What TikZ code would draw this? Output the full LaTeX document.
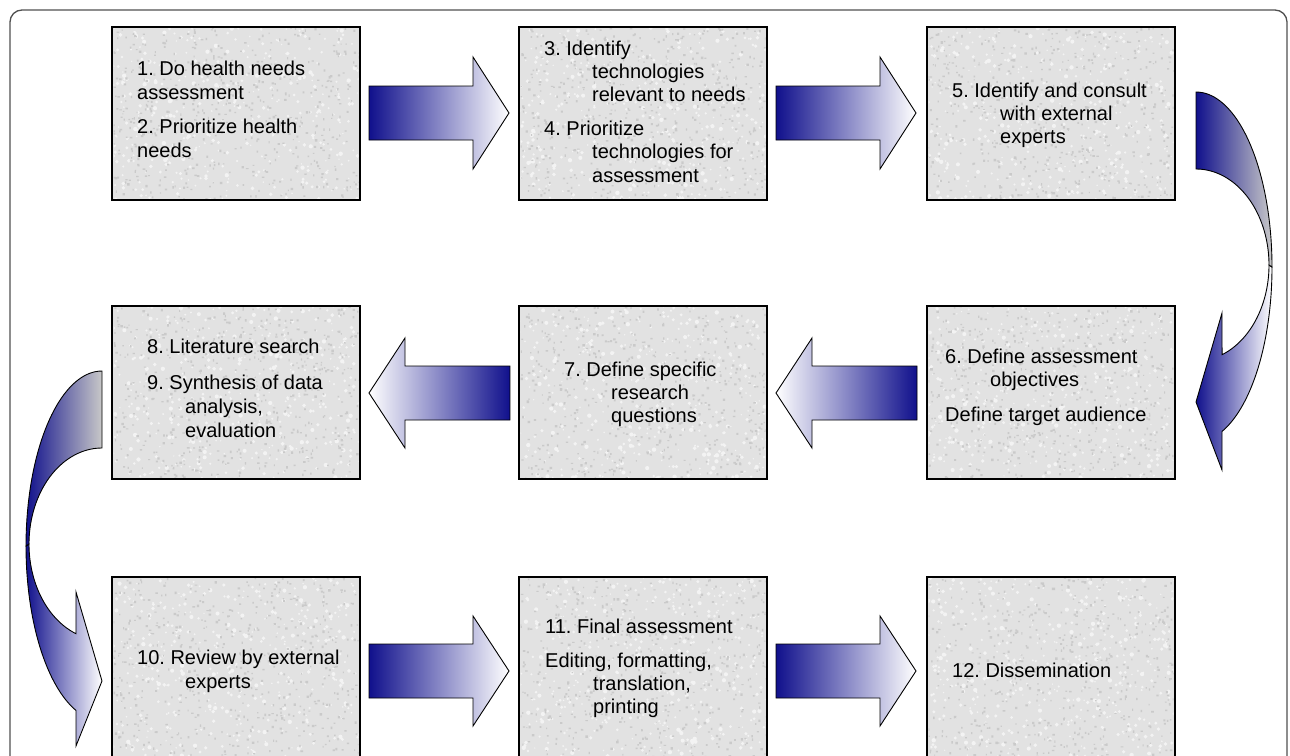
\documentclass[tikz,border=0pt]{standalone}
\usepackage{fontspec}
\setmainfont{Liberation Sans}
\frenchspacing
\definecolor{navy}{RGB}{16,16,140}
\definecolor{boxgray}{RGB}{226,226,226}
\definecolor{speckdark}{RGB}{202,202,202}
\definecolor{specklight}{RGB}{243,243,243}
\definecolor{bandgray}{RGB}{200,200,200}
\definecolor{framegray}{RGB}{80,80,80}
\tikzset{
  stepbox/.style={draw=black, line width=2pt, fill=boxgray, minimum width=248pt, minimum height=173pt, inner sep=0pt},
  lastbox/.style={stepbox, minimum height=180pt},
  txt/.style={anchor=base west, inner sep=0pt, font=\fontsize{20}{24}\selectfont},
  rarrow/.style={draw=black, line width=0.9pt, left color=navy, right color=white},
  larrow/.style={draw=black, line width=0.9pt, left color=white, right color=navy},
  backband/.style={draw=black, line width=0.9pt, left color=navy, right color=bandgray},
  frontband/.style={draw=black, line width=0.9pt, left color=navy, right color=white},
}
\newcommand{\granite}[3]{%
  \begin{scope}
    \clip ({#1-122.5},{#2-#3/2+1.5}) rectangle ({#1+122.5},{#2+#3/2-1.5});
    \fill[specklight] \foreach \i in {1,...,420} { ({#1-124+248*rnd},{#2-#3/2+#3*rnd}) circle[radius={0.7+1.5*rnd}] };
    \fill[speckdark] \foreach \i in {1,...,550} { ({#1-124+248*rnd},{#2-#3/2+#3*rnd}) rectangle +({1+1.6*rnd},{1+1.6*rnd}) };
  \end{scope}}
\begin{document}
\begin{tikzpicture}[x=1pt,y=-1pt]
\pgfmathsetseed{11}
\useasboundingbox (0,0) rectangle (1290,755);
\clip (0,0) rectangle (1290,755);
\draw[framegray, line width=1.3pt, rounded corners=12pt] (10,10) rectangle (1287,800);

% boxes
\node[stepbox] (b1) at (236,113.5) {};
\node[stepbox] (b3) at (643,113.5) {};
\node[stepbox] (b5) at (1051,113.5) {};
\node[stepbox] (b8) at (236,392) {};
\node[stepbox] (b7) at (643,392) {};
\node[stepbox] (b6) at (1051,392) {};
\node[lastbox] (b10) at (236,667) {};
\node[lastbox] (b11) at (643,667) {};
\node[lastbox] (b12) at (1051,667) {};
\granite{236}{113.5}{173}
\granite{643}{113.5}{173}
\granite{1051}{113.5}{173}
\granite{236}{392}{173}
\granite{643}{392}{173}
\granite{1051}{392}{173}
\granite{236}{667}{180}
\granite{643}{667}{180}
\granite{1051}{667}{180}

% straight arrows, row 1
\path[rarrow] (369,86) -- (473,86) -- (473,57) -- (509,113) -- (473,169) -- (473,140) -- (369,140) -- cycle;
\path[rarrow] (776,86) -- (880,86) -- (880,57) -- (916,113) -- (880,169) -- (880,140) -- (776,140) -- cycle;
% row 2 (pointing left)
\path[larrow] (369,393) -- (405,338) -- (405,366) -- (510,366) -- (510,420) -- (405,420) -- (405,448) -- cycle;
\path[larrow] (776,393) -- (812,338) -- (812,366) -- (917,366) -- (917,420) -- (812,420) -- (812,448) -- cycle;
% row 3
\path[rarrow] (369,644) -- (473,644) -- (473,616) -- (509,671) -- (473,726) -- (473,698) -- (369,698) -- cycle;
\path[rarrow] (776,644) -- (880,644) -- (880,616) -- (916,671) -- (880,726) -- (880,698) -- (776,698) -- cycle;

% curved arrow right (row 1 -> row 2)
\path[frontband] plot[domain=0:-70, samples=40, variable=\t] ({1196+76*cos(\t)},{267-175*sin(\t)})
  -- (1222,470) -- (1196,402) -- (1222,313)
  -- plot[domain=-69.1:0, samples=40, variable=\t] ({1196+73*cos(\t)},{265-96*sin(\t)}) -- cycle;
\path[backband] (1196,92) -- plot[domain=90:0, samples=40, variable=\t] ({1196+76*cos(\t)},{267-175*sin(\t)})
  -- plot[domain=0:90, samples=40, variable=\t] ({1196+73*cos(\t)},{265-96*sin(\t)}) -- cycle;

% curved arrow left (row 2 -> row 3)
\path[frontband] plot[domain=0:-70, samples=40, variable=\t] ({102-76*cos(\t)},{546-175*sin(\t)})
  -- (76,746) -- (102,681) -- (76,592)
  -- plot[domain=-69.1:0, samples=40, variable=\t] ({102-73*cos(\t)},{544-96*sin(\t)}) -- cycle;
\path[backband] (102,371) -- plot[domain=90:0, samples=40, variable=\t] ({102-76*cos(\t)},{546-175*sin(\t)})
  -- plot[domain=0:90, samples=40, variable=\t] ({102-73*cos(\t)},{544-96*sin(\t)}) -- cycle;

% texts
\node[txt] (t1a) at (137,75) {1. Do health needs};
\node[txt] (t1b) at (137,99) {assessment};
\node[txt] (t1c) at (137,133) {2. Prioritize health};
\node[txt] (t1d) at (137,157) {needs};

\node[txt] (t3a) at (544,55) {3. Identify};
\node[txt] (t3b) at (592,78) {technologies};
\node[txt] (t3c) at (592,101) {relevant to needs};
\node[txt] (t3d) at (544,135) {4. Prioritize};
\node[txt] (t3e) at (592,158) {technologies for};
\node[txt] (t3f) at (592,182) {assessment};

\node[txt] (t5a) at (952,97) {5. Identify and consult};
\node[txt] (t5b) at (1000,120) {with external};
\node[txt] (t5c) at (1000,143) {experts};

\node[txt] (t8a) at (147,353) {8. Literature search};
\node[txt] (t8b) at (147,389) {9. Synthesis of data};
\node[txt] (t8c) at (185,413) {analysis,};
\node[txt] (t8d) at (185,437) {evaluation};

\node[txt] (t7a) at (564,376) {7. Define specific};
\node[txt] (t7b) at (611,399) {research};
\node[txt] (t7c) at (611,422) {questions};

\node[txt] (t6a) at (945,363) {6. Define assessment};
\node[txt] (t6b) at (990,386) {objectives};
\node[txt] (t6c) at (945,421) {Define target audience};

\node[txt] (t10a) at (137,664) {10. Review by external};
\node[txt] (t10b) at (185,688) {experts};

\node[txt] (t11a) at (545,633) {11. Final assessment};
\node[txt] (t11b) at (545,667) {Editing, formatting,};
\node[txt] (t11c) at (593,690) {translation,};
\node[txt] (t11d) at (593,713) {printing};

\node[txt] (t12a) at (952,677) {12. Dissemination};
\end{tikzpicture}
\end{document}
